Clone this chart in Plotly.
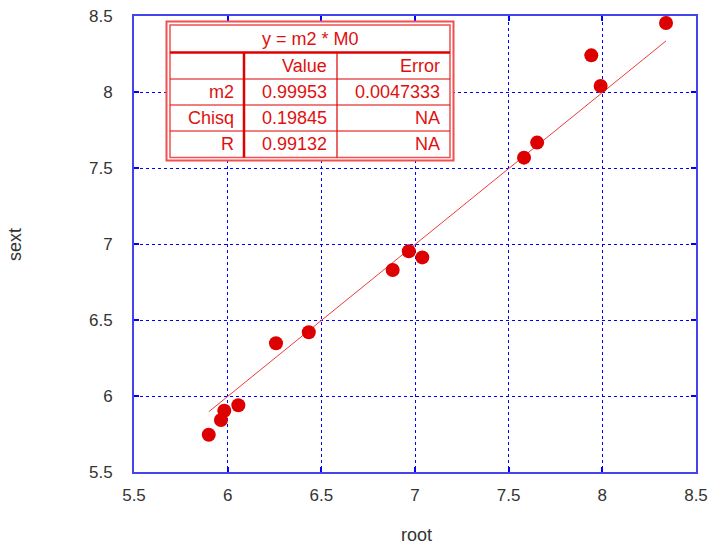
import plotly.graph_objects as go

# ---- data ----
root = [5.899, 5.964, 5.982, 6.057, 6.258, 6.433, 6.881, 6.967, 7.039,
        7.582, 7.652, 7.941, 7.991, 8.340]
sext = [5.745, 5.842, 5.903, 5.939, 6.347, 6.419, 6.829, 6.952, 6.912,
        7.568, 7.667, 8.241, 8.039, 8.454]
m2 = 0.99953
fit_title = "y = m2 * M0"
table_header = ["", "Value", "Error"]
table_rows = [["m2", "0.99953", "0.0047333"],
              ["Chisq", "0.19845", "NA"],
              ["R", "0.99132", "NA"]]
ticks = [5.5, 6, 6.5, 7, 7.5, 8, 8.5]
tick_text = ["5.5", "6", "6.5", "7", "7.5", "8", "8.5"]

W, H = 711, 546
L, R, T, B = 134, 15, 16, 74
PW, PH = W - L - R, H - T - B

def px(x):
    return (x - L) / PW

def py(y):
    return (H - B - y) / PH

FONT = "Liberation Sans, Arial, sans-serif"
RED = "#e00000"
BLUE = "#0000ff"
TXT = "#333333"

fx = [min(root), max(root)]
fy = [m2 * v for v in fx]

fig = go.Figure()
fig.add_trace(go.Scatter(x=fx, y=fy, mode="lines",
                         line=dict(color="#f03a3a", width=1), hoverinfo="skip",
                         showlegend=False))
fig.add_trace(go.Scatter(x=root, y=sext, mode="markers",
                         marker=dict(color="#dd0000", size=14, line=dict(width=0)),
                         showlegend=False))

axis_common = dict(
    range=[5.5, 8.5], tickvals=ticks, ticktext=tick_text, automargin=False,
    showgrid=True, gridcolor=BLUE, gridwidth=1.3, griddash="3px,3px",
    showline=True, linecolor="#4444ee", linewidth=2, mirror="allticks",
    ticks="inside", ticklen=5, tickcolor=BLUE, tickwidth=2,
    zeroline=False, tickfont=dict(family=FONT, size=17, color=TXT),
)
fig.update_xaxes(**axis_common, ticklabelstandoff=7)
fig.update_yaxes(**axis_common, ticklabelstandoff=16)

fig.update_layout(
    width=W, height=H, margin=dict(l=L, r=R, t=T, b=B, autoexpand=False),
    paper_bgcolor="white", plot_bgcolor="white",
    font=dict(family=FONT, size=17, color=TXT),
)

annotations = []
annotations.append(dict(text="root", x=px(416), y=py(535), xref="paper", yref="paper",
                        xanchor="center", yanchor="middle",
                        showarrow=False, font=dict(size=18)))
annotations.append(dict(text="sext", x=px(15), y=py(245), xref="paper", yref="paper",
                        xanchor="center", yanchor="middle",
                        showarrow=False, textangle=-90, font=dict(size=18)))

shapes = []
# table geometry (pixels)
ox0, oy0, ox1, oy1 = 166.5, 21.5, 453.5, 160.5
ix0, iy0, ix1, iy1 = 170, 25, 450, 157.5
cols = [ix0, 244, 337, ix1]
rows = [iy0, 52.5, 79, 105, 131, iy1]

def line(x0, y0, x1, y1, color, width):
    shapes.append(dict(type="line", xref="paper", yref="paper",
                       x0=px(x0), x1=px(x1), y0=py(y0), y1=py(y1),
                       line=dict(color=color, width=width), layer="above"))

shapes.append(dict(type="rect", xref="paper", yref="paper",
                   x0=px(ox0), x1=px(ox1), y0=py(oy0), y1=py(oy1),
                   line=dict(color="#f05050", width=2), fillcolor="white", layer="above"))
shapes.append(dict(type="rect", xref="paper", yref="paper",
                   x0=px(ix0), x1=px(ix1), y0=py(iy0), y1=py(iy1),
                   line=dict(color="#f05050", width=1.5), layer="above"))
line(ix0, rows[1], ix1, rows[1], RED, 2.5)
for r in rows[2:-1]:
    line(ix0, r, ix1, r, RED, 1.2)
line(cols[1], rows[1], cols[1], iy1, RED, 2.5)
line(cols[2], rows[1], cols[2], iy1, RED, 1.2)

tfont = dict(family=FONT, size=18, color="#e01010")
annotations.append(dict(text=fit_title, x=px((ix0 + ix1) / 2), y=py((rows[0] + rows[1]) / 2),
                        xref="paper", yref="paper", xanchor="center", yanchor="middle",
                        showarrow=False, font=tfont))
all_rows = [table_header] + table_rows
for ri, rvals in enumerate(all_rows):
    yc = (rows[ri + 1] + rows[ri + 2]) / 2
    for ci, val in enumerate(rvals):
        if not val:
            continue
        annotations.append(dict(text=val, x=px(cols[ci + 1] - 8), y=py(yc),
                                xref="paper", yref="paper", xanchor="right",
                                yanchor="middle", showarrow=False, font=tfont))

fig.update_layout(shapes=shapes, annotations=annotations)
fig.write_html("out.html")
